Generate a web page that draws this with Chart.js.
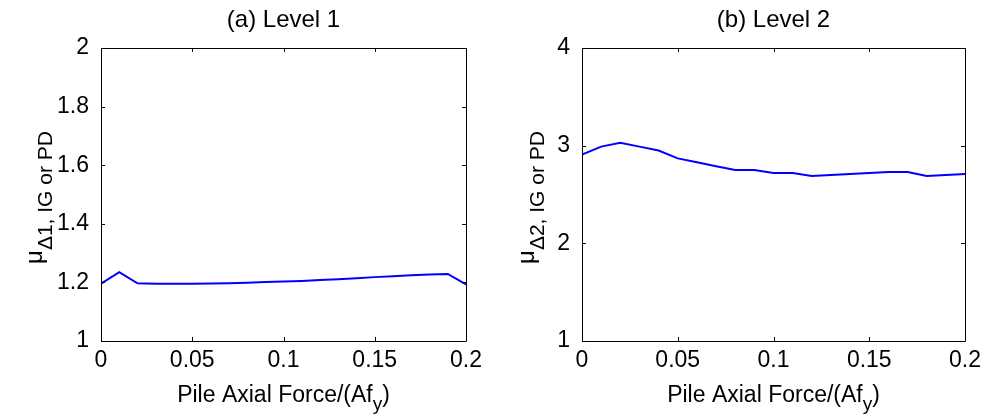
<!DOCTYPE html>
<html>
<head>
<meta charset="utf-8">
<script src="https://cdn.jsdelivr.net/npm/chart.js@4.4.1/dist/chart.umd.min.js"></script>
<style>
  body { margin: 0; background: #fff; }
  #wrap { position: relative; width: 987px; height: 417px; background: #fff; overflow: hidden; }
  canvas { position: absolute; top: 0; }
</style>
</head>
<body>
<div id="wrap">
  <canvas id="c1" width="490" height="417" style="left:0"></canvas>
  <canvas id="c2" width="497" height="417" style="left:490px"></canvas>
</div>
<script>
// pile axial force ratio (x)
const axialForce = [0, 0.01, 0.02, 0.03, 0.04, 0.05, 0.06, 0.07, 0.08, 0.09, 0.1,
  0.11, 0.12, 0.13, 0.14, 0.15, 0.16, 0.17, 0.18, 0.19, 0.2];
// level 1 ductility
const level1 = [1.196, 1.235, 1.197, 1.195, 1.195, 1.195, 1.196, 1.197, 1.199, 1.201, 1.203,
  1.205, 1.208, 1.211, 1.214, 1.218, 1.221, 1.224, 1.227, 1.229, 1.193];
// level 2 ductility
const level2 = [2.91, 2.99, 3.03, 2.99, 2.95, 2.87, 2.83, 2.79, 2.75, 2.75, 2.72,
  2.72, 2.69, 2.70, 2.71, 2.72, 2.73, 2.73, 2.69, 2.70, 2.71];

const xTicks = [0, 0.05, 0.1, 0.15, 0.2];
const xTickLabels = ['0', '0.05', '0.1', '0.15', '0.2'];
const y1Ticks = [1, 1.2, 1.4, 1.6, 1.8, 2];
const y1TickLabels = ['1', '1.2', '1.4', '1.6', '1.8', '2'];
const y2Ticks = [1, 2, 3, 4];
const y2TickLabels = ['1', '2', '3', '4'];

const FONT = '"Liberation Sans", Arial, sans-serif';
const BIG = 23, SMALL = 19, YSUB = 21;

// matlab-like box with inward ticks, titles and sub-scripted labels
const matlabAxes = {
  id: 'matlabAxes',
  afterDraw(chart, args, opts) {
    const ctx = chart.ctx;
    const a = chart.chartArea;
    const xs = chart.scales.x, ys = chart.scales.y;
    ctx.save();
    ctx.strokeStyle = '#000';
    ctx.lineWidth = 1;
    ctx.beginPath();
    ctx.rect(Math.round(a.left) + 0.5, Math.round(a.top) + 0.5,
      Math.round(a.right - a.left), Math.round(a.bottom - a.top));
    ctx.stroke();
    const tl = 4;
    ctx.beginPath();
    xs.ticks.forEach(t => {
      const px = Math.round(xs.getPixelForValue(t.value)) + 0.5;
      ctx.moveTo(px, a.bottom); ctx.lineTo(px, a.bottom - tl);
      ctx.moveTo(px, a.top); ctx.lineTo(px, a.top + tl);
    });
    ys.ticks.forEach(t => {
      const py = Math.round(ys.getPixelForValue(t.value)) + 0.5;
      ctx.moveTo(a.left, py); ctx.lineTo(a.left + tl, py);
      ctx.moveTo(a.right, py); ctx.lineTo(a.right - tl, py);
    });
    ctx.stroke();

    ctx.fillStyle = '#000';
    const cx = (a.left + a.right) / 2;
    // title
    ctx.font = (BIG + 1) + 'px ' + FONT;
    ctx.textAlign = 'center';
    ctx.textBaseline = 'alphabetic';
    ctx.fillText(opts.title, cx, 27);

    // x label with subscript y
    const main = 'Pile Axial Force/(Af';
    ctx.font = BIG + 'px ' + FONT;
    const wMain = ctx.measureText(main).width;
    ctx.font = SMALL + 'px ' + FONT;
    const wSub = ctx.measureText('y').width;
    ctx.font = BIG + 'px ' + FONT;
    const wEnd = ctx.measureText(')').width;
    const x0 = cx - (wMain + wSub + wEnd) / 2;
    ctx.textAlign = 'left';
    ctx.fillText(main, x0, 402);
    ctx.font = SMALL + 'px ' + FONT;
    ctx.fillText('y', x0 + wMain, 410);
    ctx.font = BIG + 'px ' + FONT;
    ctx.fillText(')', x0 + wMain + wSub, 402);

    // y label: mu with subscript
    ctx.translate(opts.yLabelX, (a.top + a.bottom) / 2 + 3);
    ctx.rotate(-Math.PI / 2);
    ctx.font = (BIG + 1) + 'px ' + FONT;
    const wMu = ctx.measureText('\u03bc').width;
    ctx.font = YSUB + 'px ' + FONT;
    const wS = ctx.measureText(opts.ySub).width;
    const s0 = -(wMu + wS) / 2;
    ctx.font = (BIG + 1) + 'px ' + FONT;
    ctx.fillText('\u03bc', s0, 0);
    ctx.font = YSUB + 'px ' + FONT;
    ctx.fillText(opts.ySub, s0 + wMu, 10);
    ctx.restore();
  }
};

function makeChart(id, values, yTicks, yLabels, cfg) {
  return new Chart(document.getElementById(id), {
    type: 'line',
    data: {
      labels: axialForce,
      datasets: [{
        data: axialForce.map((x, i) => ({ x: x, y: values[i] })),
        borderColor: '#0000ff',
        borderWidth: 2,
        pointRadius: 0,
        tension: 0,
        fill: false
      }]
    },
    options: {
      responsive: false,
      animation: false,
      devicePixelRatio: 1,
      layout: { padding: { top: 48, right: cfg.padRight, left: 0, bottom: 0 } },
      plugins: {
        legend: { display: false },
        tooltip: { enabled: false },
        matlabAxes: cfg.axes
      },
      scales: {
        x: {
          type: 'linear',
          min: 0, max: 0.2,
          grid: { display: false, drawTicks: false },
          border: { display: false },
          afterBuildTicks: s => { s.ticks = xTicks.map(v => ({ value: v })); },
          afterFit: s => { s.height = 76; },
          ticks: {
            padding: 6,
            color: '#000',
            font: { family: FONT, size: BIG },
            maxRotation: 0,
            callback: v => xTickLabels[xTicks.indexOf(v)]
          }
        },
        y: {
          min: yTicks[0], max: yTicks[yTicks.length - 1],
          grid: { display: false, drawTicks: false },
          border: { display: false },
          afterBuildTicks: s => { s.ticks = yTicks.map(v => ({ value: v })); },
          afterFit: s => { s.width = cfg.yWidth; },
          ticks: {
            padding: 12,
            color: '#000',
            font: { family: FONT, size: BIG },
            callback: v => yLabels[yTicks.indexOf(v)]
          }
        }
      }
    },
    plugins: [matlabAxes]
  });
}

makeChart('c1', level1, y1Ticks, y1TickLabels, {
  padRight: 24, yWidth: 101,
  axes: { title: '(a) Level 1', ySub: '\u03941, IG or PD', yLabelX: 42 }
});
makeChart('c2', level2, y2Ticks, y2TickLabels, {
  padRight: 21, yWidth: 92,
  axes: { title: '(b) Level 2', ySub: '\u03942, IG or PD', yLabelX: 44 }
});
</script>
</body>
</html>
